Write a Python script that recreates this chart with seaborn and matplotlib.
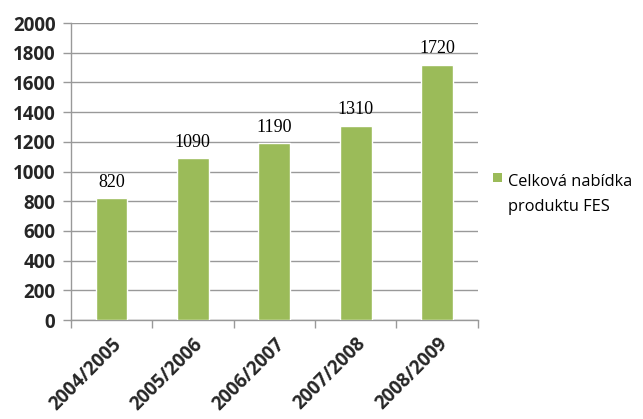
import matplotlib
matplotlib.use("Agg")
import matplotlib.pyplot as plt
import seaborn as sns
import pandas as pd
from matplotlib.patches import Rectangle

years = ["2004/2005", "2005/2006", "2006/2007", "2007/2008", "2008/2009"]
values = [820, 1090, 1190, 1310, 1720]
series_name = "Celková nabídka\nproduktu FES"
y_ticks = [0, 200, 400, 600, 800, 1000, 1200, 1400, 1600, 1800, 2000]

bar_color = "#9BBB59"
grid_color = "#999999"

sns.set_theme(style="white")
plt.rcParams["font.family"] = ["Open Sans", "DejaVu Sans"]

df = pd.DataFrame({"year": years, "value": values})

W, H = 643, 419
fig = plt.figure(figsize=(W / 100, H / 100), dpi=100)
ax = fig.add_axes([0.110, 0.236, 0.633, 0.709])

sns.barplot(data=df, x="year", y="value", color=bar_color, width=0.39,
            saturation=1, ax=ax, zorder=3)

ax.set_ylim(0, 2000)
ax.set_xlim(-0.5, len(years) - 0.5)
ax.set_yticks(y_ticks)
ax.yaxis.grid(True, color=grid_color, linewidth=1.0, zorder=0)
ax.set_axisbelow(True)
ax.set_xlabel("")
ax.set_ylabel("")

for side in ["top", "right"]:
    ax.spines[side].set_visible(False)
ax.spines["left"].set_color(grid_color)
ax.spines["bottom"].set_color(grid_color)
ax.spines["left"].set_linewidth(1.0)
ax.spines["bottom"].set_linewidth(1.0)

ax.tick_params(axis="y", which="major", left=True, length=6, color=grid_color,
               width=1.0, labelsize=13.5, pad=5)
for lbl in ax.get_yticklabels():
    lbl.set_fontweight("bold")

# category labels centred, tick marks at category boundaries
ax.set_xticks(range(len(years)))
ax.set_xticklabels(years, rotation=45, ha="right", rotation_mode="anchor",
                   fontsize=13.5, fontweight="bold")
ax.tick_params(axis="x", which="major", bottom=False, pad=4)
ax.set_xticks([i - 0.5 for i in range(len(years) + 1)], minor=True)
ax.tick_params(axis="x", which="minor", bottom=True, length=6,
               color=grid_color, width=1.0)

# value labels above each bar
for i, v in enumerate(values):
    ax.text(i, v + 50, str(v), ha="center", va="bottom",
            fontsize=13, family="Liberation Serif", color="black")

# legend: colour swatch beside a two-line series name
fig.add_artist(Rectangle((493 / W, 1 - 182 / H), 9 / W, 9 / H,
                         transform=fig.transFigure, facecolor=bar_color,
                         edgecolor="none"))
for k, line in enumerate(series_name.split("\n")):
    fig.text(508 / W, 1 - (186 + 25 * k) / H, line, ha="left",
             va="baseline", fontsize=11.8, color="black")

fig.savefig("out.png", dpi=100)
